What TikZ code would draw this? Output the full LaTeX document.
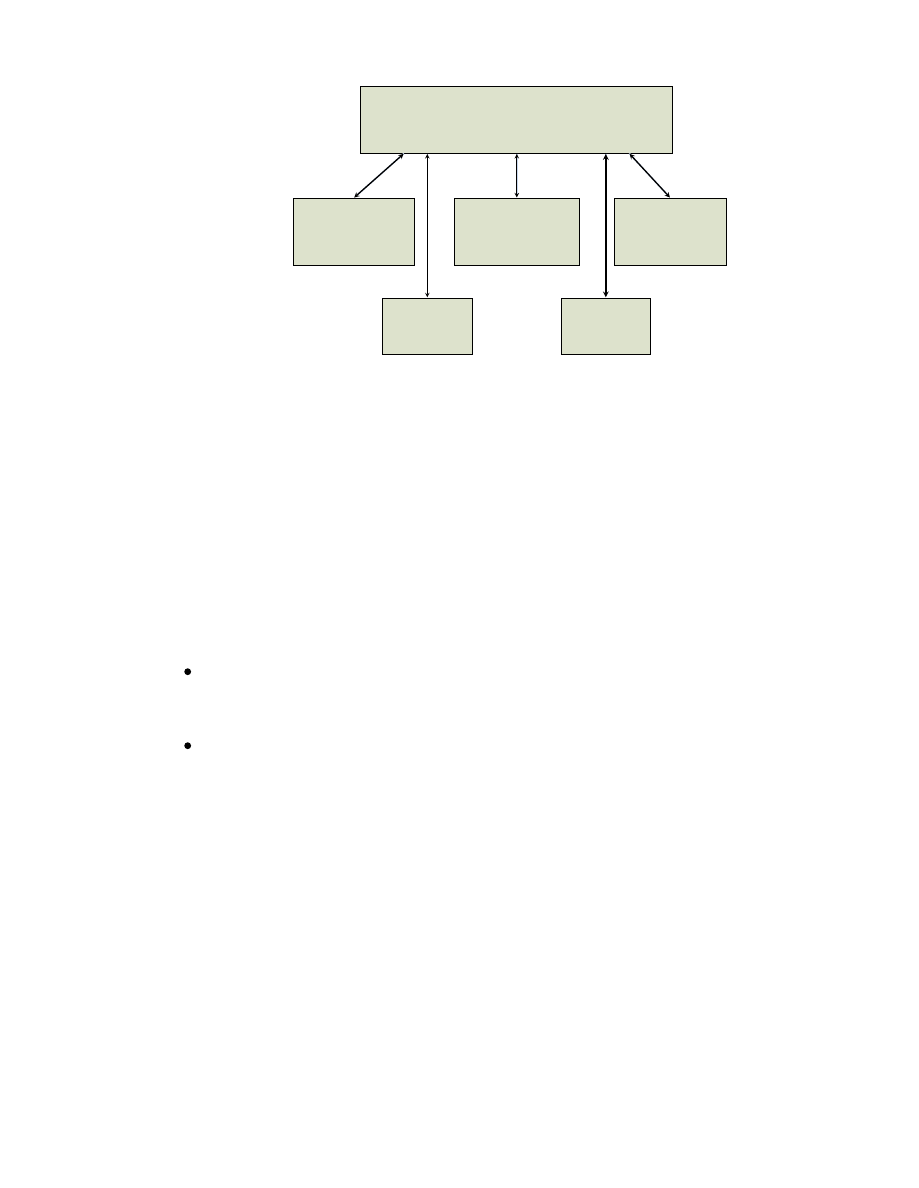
\documentclass[tikz,border=0pt]{standalone}
\usepackage{tikz}
\usepackage{xcolor}
\usetikzlibrary{arrows, positioning, calc}
\definecolor{kasten}{RGB}{221,226,204}
\definecolor{schatten}{RGB}{200,215,236}

\begin{document}
\begin{tikzpicture}[x=1pt, y=-1pt, >=stealth,
    every node/.style={draw, fill=kasten, inner sep=0pt, line width=0.9pt},
    pfeil/.style={<->, line width=1pt, shorten <=0.5pt, shorten >=0.5pt},
    schattenlinie/.style={schatten, line width=1.6pt, shorten >=2pt}]
  \useasboundingbox (0,0) rectangle (918,1188);

  % Hauptkasten
  \node[minimum width=312pt, minimum height=66.7pt] (haupt) at (516.3,119.7) {};

  % obere Reihe
  \node[minimum width=121pt, minimum height=66.7pt] (links) at (353.8,231.7) {};
  \node[minimum width=125pt, minimum height=66.7pt] (mitte) at (516.8,231.7) {};
  \node[minimum width=112pt, minimum height=66.7pt] (rechts) at (670.3,231.7) {};

  % untere Reihe
  \node[minimum width=90pt, minimum height=56pt] (untenlinks) at (427.3,326.3) {};
  \node[minimum width=89pt, minimum height=56pt] (untenrechts) at (605.8,326.3) {};

  % Ansatzpunkte am Hauptkasten
  \coordinate (a1) at ($(haupt.south west)!0.141!(haupt.south east)$);
  \coordinate (a5) at ($(haupt.south west)!0.861!(haupt.south east)$);

  % Schatten
  \begin{scope}[shift={(3.5,3)}]
    \draw[schattenlinie] (a1) -- (links.north);
    \draw[schattenlinie] (haupt.south -| untenlinks.north) -- (untenlinks.north);
    \draw[schattenlinie] (haupt.south -| mitte.north) -- (mitte.north);
    \draw[schattenlinie] (haupt.south -| untenrechts.north) -- (untenrechts.north);
    \draw[schattenlinie] (a5) -- (rechts.north);
  \end{scope}

  % Verbindungen
  \draw[pfeil, line width=1.3pt] (a1) -- (links.north);
  \draw[pfeil] (haupt.south -| untenlinks.north) -- (untenlinks.north);
  \draw[pfeil] (haupt.south -| mitte.north) -- (mitte.north);
  \draw[pfeil, line width=1.6pt] (haupt.south -| untenrechts.north) -- (untenrechts.north);
  \draw[pfeil, line width=1.3pt] (a5) -- (rechts.north);

  % Aufzaehlungspunkte
  \foreach \y in {671.7, 745.7} {
      \fill (187.7,\y) circle (3.4pt);
  }
\end{tikzpicture}
\end{document}
